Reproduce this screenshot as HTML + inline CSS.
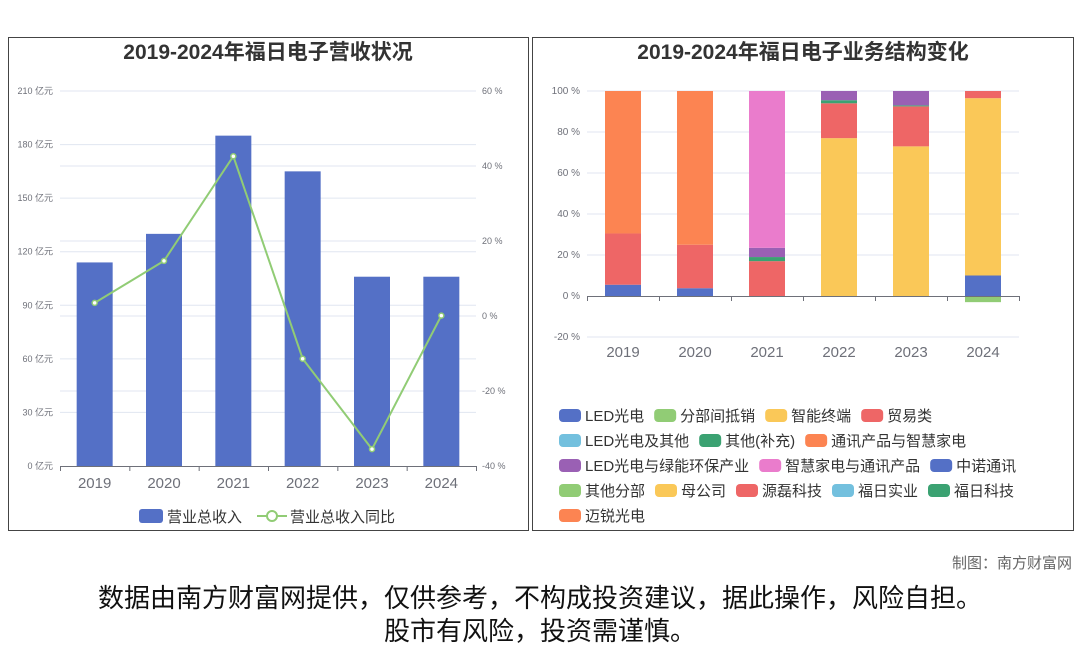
<!DOCTYPE html>
<html><head><meta charset="utf-8">
<style>
body{margin:0;width:1080px;height:646px;background:#fff;overflow:hidden;font-family:"Liberation Sans","Noto Sans CJK SC",sans-serif;}
svg{position:absolute;left:0;top:0}
text{font-family:"Liberation Sans","Noto Sans CJK SC",sans-serif}
</style></head>
<body>
<svg id="s" width="1080" height="646"></svg>
<script>
const years=['2019','2020','2021','2022','2023','2024'];
const revenue=[114,130,185,165,106,106];
const growth=[3.5,14.7,42.6,-11.4,-35.5,0.1];
const leftTicks=[0,30,60,90,120,150,180,210];
const rightTicks=[-40,-20,0,20,40,60];
const pctTicks=[-20,0,20,40,60,80,100];
const seriesNames=['LED光电','分部间抵销','智能终端','贸易类','LED光电及其他','其他(补充)','通讯产品与智慧家电','LED光电与绿能环保产业','智慧家电与通讯产品','中诺通讯','其他分部','母公司','源磊科技','福日实业','福日科技','迈锐光电'];
const seriesColors=['#5470c6','#91cc75','#fac858','#ee6666','#73c0de','#3ba272','#fc8452','#9a60b4','#ea7ccc','#5470c6','#91cc75','#fac858','#ee6666','#73c0de','#3ba272','#fc8452'];
const sLED=[5.5,3.8,0,0,0,10];
const sOffset=[-0.3,0,0,0,0,-3];
const sTerminal=[0,0,0,77,73,86.5];
const sTrade=[25,21.2,17,17,19.5,3.5];
const sLEDother=[0,0,0,0,0,0];
const sOther=[0,0,2,1.5,0.5,0];
const sComm=[69.5,75,0,0,0,0];
const sLEDgreen=[0,0,4.5,4.5,7,0];
const sHome=[0,0,76.5,0,0,0];
const seriesValues=[sLED,sOffset,sTerminal,sTrade,sLEDother,sOther,sComm,sLEDgreen,sHome];
const legendRows=[[0,1,2,3],[4,5,6],[7,8,9],[10,11,12,13,14],[15]];

const S=document.getElementById('s');const NS='http://www.w3.org/2000/svg';
function el(t,a,txt){const e=document.createElementNS(NS,t);for(const k in a)e.setAttribute(k,a[k]);if(txt!==undefined)e.textContent=txt;S.appendChild(e);return e;}

let p=el('rect',{x:8.5,y:37.5,width:520,height:493,fill:'none',stroke:'#444'});

p=el('rect',{x:532.5,y:37.5,width:541,height:493,fill:'none',stroke:'#444'});

let t=el('text',{x:268,y:59,'text-anchor':'middle','font-size':21,'font-weight':'bold',fill:'#333'},'2019-2024年福日电子营收状况');

t=el('text',{x:803,y:59,'text-anchor':'middle','font-size':21,'font-weight':'bold',fill:'#333'},'2019-2024年福日电子业务结构变化');


const L0=60,L1=476,Ytop=91,Ybot=466;
const yL=v=>Ybot-(v/210)*(Ybot-Ytop);
const yR=v=>Ybot-((v+40)/100)*(Ybot-Ytop);
const bw=(L1-L0)/6;const xC=i=>L0+bw*(i+0.5);
leftTicks.forEach(v=>{
  if(v>0){const g=el('line',{x1:L0,x2:L1,y1:yL(v),y2:yL(v),stroke:'#e0e6f1'});}
  const tt=el('text',{x:53,y:yL(v)+3,'text-anchor':'end','font-size':9,fill:'#6e7079'},v+' 亿元');
  
});
rightTicks.forEach(v=>{
  if(v>-40){const g=el('line',{x1:L0,x2:L1,y1:yR(v),y2:yR(v),stroke:'#e0e6f1'});}
  const tt=el('text',{x:482,y:yR(v)+3,'font-size':9,fill:'#6e7079'},v+' %');
  
});
revenue.forEach((v,i)=>{
  const r=el('rect',{x:xC(i)-18,y:yL(v),width:36,height:Ybot-yL(v),fill:'#5470c6'});
  
});
let ax=el('line',{x1:L0,x2:L1,y1:Ybot+.5,y2:Ybot+.5,stroke:'#6e7079'});

for(let i=0;i<=6;i++){const tk=el('line',{x1:L0+bw*i+.5,x2:L0+bw*i+.5,y1:Ybot,y2:Ybot+5,stroke:'#6e7079'});
  }
years.forEach((y,i)=>{
  const tt=el('text',{x:xC(i),y:488,'text-anchor':'middle','font-size':15,fill:'#6e7079'},y);
  
});
const line=el('polyline',{points:growth.map((v,i)=>xC(i)+','+yR(v)).join(' '),fill:'none',stroke:'#91cc75','stroke-width':2});

growth.forEach((v,i)=>{const c=el('circle',{cx:xC(i),cy:yR(v),r:2.5,fill:'#fff',stroke:'#91cc75','stroke-width':1.5});
  });
let lg=el('rect',{x:139,y:509,width:24,height:14,rx:3,fill:'#5470c6'});
t=el('text',{x:167,y:522,'font-size':15,fill:'#333'},'营业总收入');
lg=el('line',{x1:257,x2:287,y1:516,y2:516,stroke:'#91cc75','stroke-width':2});
lg=el('circle',{cx:272,cy:516,r:5,fill:'#fff',stroke:'#91cc75','stroke-width':2});
t=el('text',{x:284+0,y:522,'font-size':15,fill:'#333'},'营业总收入同比');t.setAttribute('x',290);

const R0=587,R1=1019,Z=296,P100=91;
const yP=v=>Z-(v/100)*(Z-P100);
const rbw=(R1-R0)/6;const rx=i=>R0+rbw*(i+0.5);
pctTicks.forEach(v=>{
  if(v!==0){const g=el('line',{x1:R0,x2:R1,y1:yP(v),y2:yP(v),stroke:'#e0e6f1'});}
  const tt=el('text',{x:580,y:yP(v)+3,'text-anchor':'end','font-size':10,fill:'#6e7079'},v+' %');
  
});
years.forEach((y,i)=>{
  let pos=0,neg=0;
  seriesValues.forEach((arr,si)=>{
    const v=arr[i];if(!v)return;
    let y0,y1;
    if(v>0){y0=pos;pos+=v;y1=pos;}else{y0=neg;neg+=v;y1=neg;}
    const top=Math.min(yP(y0),yP(y1)),h=Math.abs(yP(y1)-yP(y0));
    const r=el('rect',{x:rx(i)-18,y:top,width:36,height:h,fill:seriesColors[si]});
    
    
  });
  const tt=el('text',{x:rx(i),y:357,'text-anchor':'middle','font-size':15,fill:'#6e7079'},y);
  
});
ax=el('line',{x1:R0,x2:R1,y1:Z+.5,y2:Z+.5,stroke:'#6e7079'});
for(let i=0;i<=6;i++){const tk=el('line',{x1:R0+rbw*i+.5,x2:R0+rbw*i+.5,y1:Z,y2:Z+5,stroke:'#6e7079'});}

const ctx=document.createElement('canvas').getContext('2d');ctx.font='15px "Liberation Sans","Noto Sans CJK SC",sans-serif';
legendRows.forEach((row,ri)=>{
  let x=559;const y=409+ri*25;
  row.forEach(si=>{
    const sw=el('rect',{x:x,y:y,width:22,height:13,rx:4,fill:seriesColors[si]});
    
    
    const tx=el('text',{x:x+26,y:y+12,'font-size':15,fill:'#333'},seriesNames[si]);
    
    
    x+=26+ctx.measureText(seriesNames[si]).width+10;
  });
});

t=el('text',{x:1072,y:568,'text-anchor':'end','font-size':15,fill:'#666'},'制图：南方财富网');
t=el('text',{x:540,y:607,'text-anchor':'middle','font-size':26,fill:'#111'},'数据由南方财富网提供，仅供参考，不构成投资建议，据此操作，风险自担。');
t=el('text',{x:540,y:640,'text-anchor':'middle','font-size':26,fill:'#111'},'股市有风险，投资需谨慎。');
</script>
</body></html>
